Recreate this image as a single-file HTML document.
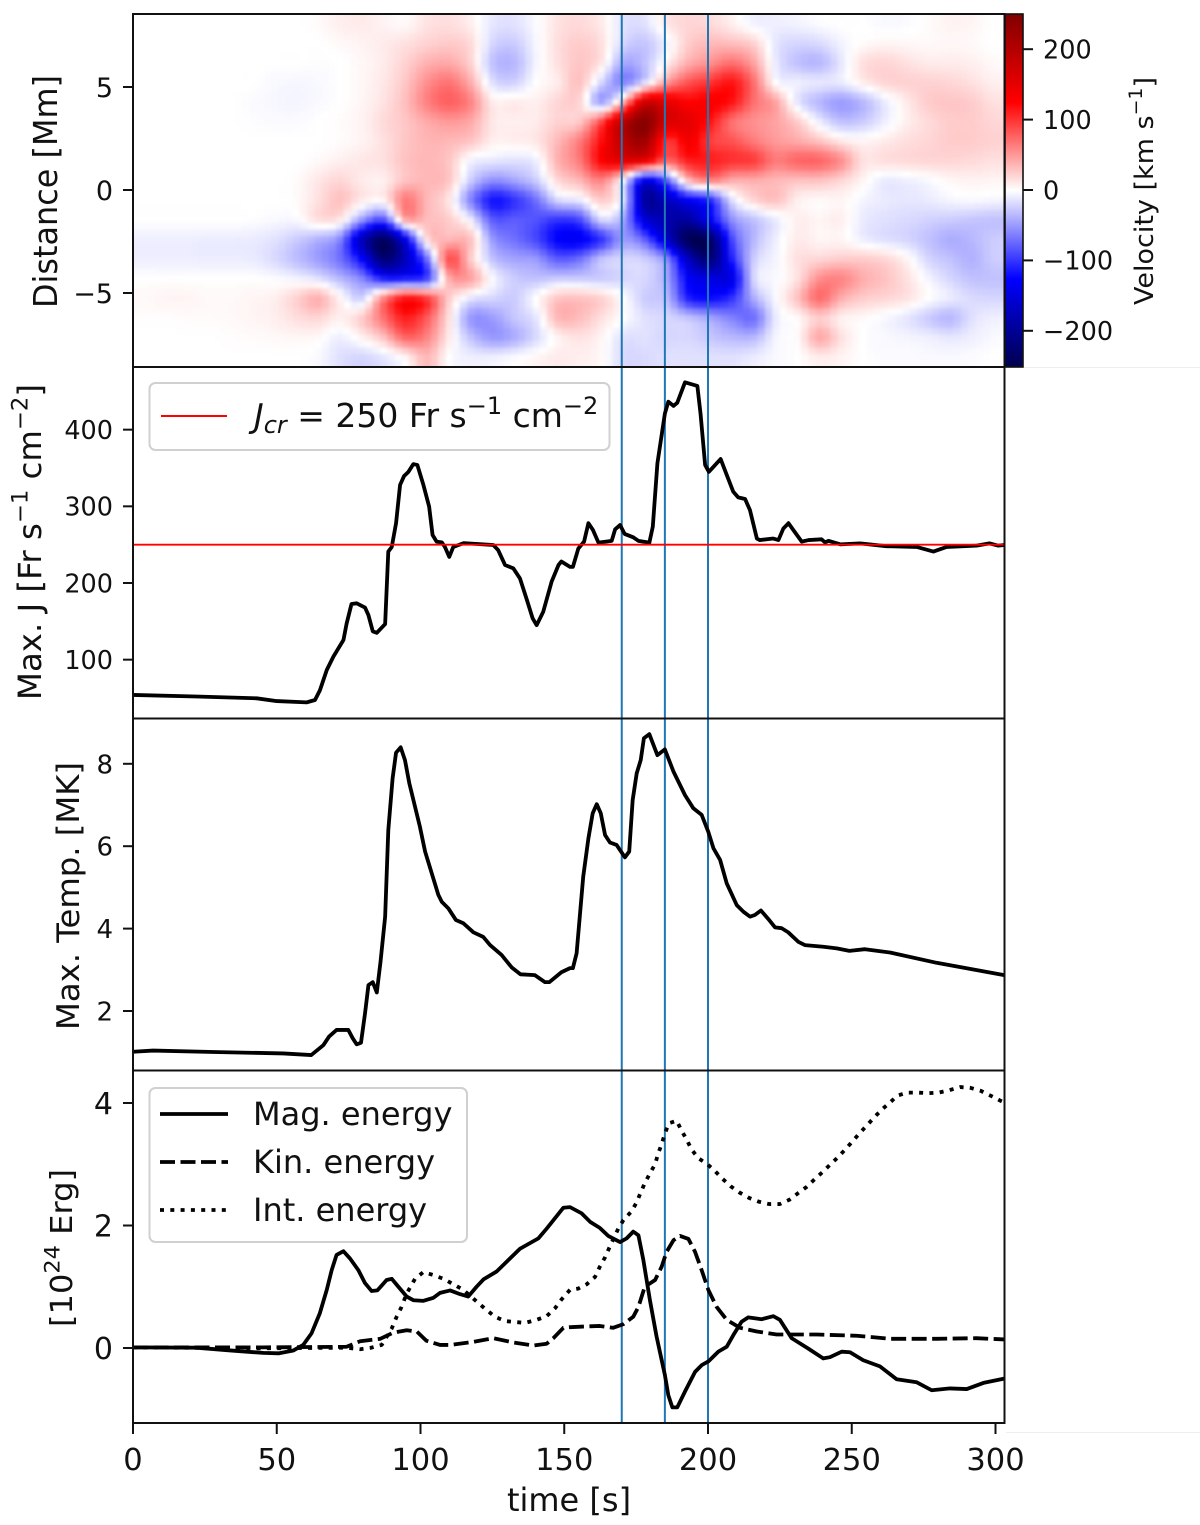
<!DOCTYPE html>
<html lang="en">
<head>
<meta charset="utf-8">
<title>Velocity, current, temperature and energy versus time</title>
<style>
html,body{margin:0;padding:0;background:#fff;}
svg{display:block;font-family:"DejaVu Sans","Liberation Sans",sans-serif;fill:#111;}
</style>
</head>
<body>
<svg id="chart" xmlns="http://www.w3.org/2000/svg" width="1200" height="1525" viewBox="0 0 1200 1525"></svg>
<script>
// ---------- chart data ----------
var markerTimes = [170, 185, 200];
var criticalCurrent = [250];
var timeTicks = [0, 50, 100, 150, 200, 250, 300];
var distanceTicks = [5, 0, -5];
var currentTicks = [400, 300, 200, 100];
var tempTicks = [8, 6, 4, 2];
var energyTicks = [4, 2, 0];
var velocityTicks = [200, 100, 0, -100, -200];

var currentTimes = [0,22,43,50,60.4,63.3,65,67.4,69.7,73.2,74.3,76,77.8,80.7,81.9,83.4,84.8,87.7,88.8,90,91.5,92.9,94.3,95.8,97.5,98.9,101,103,104.2,105.6,107.4,108.5,110,111.4,115,125.3,127,129.4,132.3,134.6,137,139,140.4,142.7,145.6,148,149,152,153,154.9,156.9,158.4,160,161.9,166.5,167.7,169.4,171,174,175.8,179.6,180.8,182.4,185,186.2,188,189.3,192,196.3,197.4,199,200.3,204.4,206.3,208.8,210.5,212.9,214.6,217,218,222.7,224.5,226.2,228,229.7,232.6,235,239.5,240.7,241.9,246,252.9,262,272.6,278.4,283,293.4,297.9,301,303];
var currentValues = [54,52,49.6,46,44.3,47.4,60,86.5,104,125.6,147,172.6,173.5,168,158,137,135,146.5,241,247,278,328,339.6,345,355,354,328,299.6,262.6,254,253,247,234,247,252,249.6,243,223.5,219,206,178,154,145,162.6,201.7,223.5,228,221,221,245,254,278,269,252.6,255,270,275.6,264,259.6,255,252.6,273.5,356,421,436.5,431,435,461.7,457,421,354,345,361.7,343,319,311.7,309.6,295,258,256,258,256,271,278,269,254,256,257,253,255,250.4,251.7,248,247,241,247,248.7,251.7,248.7,249.6];

var tempTimes = [0,7,28,52.3,62,66.2,68.2,70.8,74.9,76.4,77.8,79.3,80.7,81.9,83.4,84.8,86.1,87.7,88.8,90.3,91.5,93.1,94.6,96.1,99.8,101.6,106.2,107.4,109.7,112.3,114.9,118.4,121.8,124.2,128.2,131.7,134.8,139.8,143.3,144.8,149,152,153,154.3,156.6,158.4,159.9,161.3,162.7,164.2,165.9,168.2,171.1,172.6,173.8,175.2,176.6,177.7,179.6,182.4,185,188,192,194.9,197.8,200.1,201.9,204.2,206.5,210,212.3,214.6,216.3,218.4,221,223.3,225.6,227.9,231.4,233.7,240.1,244.8,249.2,254.6,263.3,279.5,303];
var tempValues = [1.01,1.04,1.005,0.97,0.93,1.17,1.38,1.54,1.54,1.34,1.19,1.23,1.94,2.63,2.7,2.45,3.2,4.29,6.39,7.65,8.27,8.4,8.09,7.53,6.47,5.87,4.82,4.65,4.49,4.21,4.13,3.91,3.8,3.6,3.36,3.06,2.89,2.87,2.7,2.7,2.94,3.04,3.04,3.4,5.26,6.19,6.8,7.02,6.8,6.27,6.09,6.03,5.73,5.87,7.12,7.77,8.09,8.62,8.72,8.21,8.35,7.81,7.24,6.92,6.76,6.35,5.95,5.67,5.1,4.57,4.41,4.29,4.33,4.44,4.23,4.03,4.01,3.91,3.68,3.6,3.56,3.52,3.46,3.5,3.42,3.17,2.87];

var magTimes = [0,22,33.8,45.3,50.6,55.8,59.2,62.1,65,67.4,69.1,70.8,73.2,75.5,78.4,80.7,83,85,88.2,90,92.3,95.2,97.5,101,104.5,106.8,110.3,113.7,116.6,119.5,121.9,126.5,130,134.6,141,143.9,149.7,152,156,159,162.4,165.3,169.4,171.7,174,175.8,177.5,179.8,182.1,185,186.2,187.6,189.3,192,195.5,197.8,200.1,203.6,206.5,208.8,211.7,214,218.7,222.7,225,229.1,234.9,240.1,242.4,246.5,249.4,254,259.8,265.6,272.6,277.8,284.2,290,295.8,303];
var magValues = [0.01,0.005,-0.04,-0.08,-0.087,-0.04,0.05,0.24,0.57,0.95,1.27,1.52,1.58,1.46,1.27,1.06,0.93,0.94,1.11,1.13,1.0,0.84,0.78,0.77,0.82,0.9,0.94,0.88,0.84,1.0,1.12,1.25,1.41,1.62,1.79,1.95,2.29,2.3,2.2,2.06,1.96,1.83,1.73,1.79,1.9,1.84,1.44,0.78,0.19,-0.44,-0.77,-0.97,-0.97,-0.71,-0.39,-0.28,-0.22,-0.06,0.02,0.21,0.43,0.5,0.47,0.52,0.46,0.16,-0.01,-0.17,-0.15,-0.06,-0.07,-0.2,-0.3,-0.51,-0.56,-0.69,-0.66,-0.67,-0.57,-0.5];

var kinTimes = [0,45,74.3,79,86,90.5,95.2,98.7,102,106.8,110.3,118.4,125.3,132.3,139.3,143.9,146.2,149.7,152,156.6,162.4,167,170.6,174,175.8,178,181.6,183.9,185.6,188,190.3,193.2,195.5,197.8,200.1,203,206.5,211.1,217,223.9,237.8,251.7,263.3,279.5,293.4,303];
var kinValues = [0.01,0.01,0.02,0.11,0.15,0.25,0.29,0.27,0.12,0.05,0.05,0.1,0.16,0.09,0.04,0.07,0.16,0.33,0.34,0.35,0.36,0.33,0.39,0.51,0.67,1.0,1.11,1.33,1.57,1.76,1.83,1.78,1.57,1.27,0.95,0.67,0.46,0.33,0.27,0.22,0.22,0.2,0.15,0.15,0.16,0.14];

var intTimes = [0,45,74.3,79,82.4,86.5,90,91.7,93.4,95.2,98.1,101,104.5,108,114.9,119.5,123,125.9,129.4,136.3,140.4,143.9,146.8,149,152,154.9,157.8,160.7,162.4,164.2,165.7,168.8,170.6,173.4,175.2,176.6,178,179.8,181.6,182.7,183.9,185,186.4,189.1,190.8,192.6,194.3,196.6,199.8,202.4,205.1,207.9,210.9,214.3,217.6,221.3,225,228.3,231.4,234.3,237.2,239.8,242.4,245.1,247.7,250.2,252.6,255.2,257.7,260.4,263.1,265.9,269.3,272.9,276.6,280.3,284,287.7,291.1,294.8,298.3,301.6,303];
var intValues = [0.01,-0.005,0.005,-0.02,0,0.05,0.32,0.51,0.67,0.89,1.13,1.24,1.19,1.13,0.95,0.76,0.62,0.51,0.44,0.41,0.46,0.52,0.65,0.79,0.95,0.97,1.04,1.16,1.33,1.48,1.64,1.95,2.09,2.23,2.38,2.54,2.69,2.85,3.0,3.18,3.33,3.5,3.67,3.71,3.55,3.4,3.24,3.1,3.0,2.89,2.76,2.64,2.54,2.45,2.39,2.35,2.35,2.42,2.53,2.63,2.76,2.87,2.99,3.11,3.24,3.37,3.5,3.63,3.76,3.89,4.0,4.12,4.17,4.17,4.16,4.17,4.21,4.26,4.25,4.2,4.12,4.04,4.01];

// velocity [km/s]: rows run from the top of the panel to the bottom, columns left to right in time
var velocityGrid = [
[0,0,0,0,0,0,0,0,2,8,10,6,3,14,16,8,-12,-14,-2,14,18,10,-14,-14,12,20,18,8,-6,-8,-6,-2,0,0,-3,-2,2,6,5,0],
[0,0,0,0,0,0,0,0,0,3,6,10,15,22,26,18,-20,-25,-4,16,25,15,-20,-28,-5,25,34,32,22,-12,-20,-18,-6,2,5,4,3,4,3,0],
[0,0,0,0,0,0,0,0,-1,0,4,10,22,38,42,22,-30,-35,-5,15,28,12,-42,-30,8,40,55,70,45,-10,-30,-35,-12,15,20,15,10,10,8,3],
[0,0,0,0,0,0,-3,-4,-3,0,4,12,28,55,68,40,-15,-22,0,10,30,-20,-60,-15,50,85,100,115,70,0,-8,-12,-10,8,20,22,22,20,15,8],
[0,0,0,0,0,-2,-4,-5,-3,0,5,14,32,62,78,60,10,10,8,20,20,-45,40,170,150,125,130,115,70,45,-12,-35,-48,-35,-10,10,25,28,25,15],
[0,0,0,0,0,-1,-2,-2,0,2,6,18,28,42,50,42,12,8,10,22,28,90,190,240,165,150,115,70,55,45,25,-8,-30,-25,-8,8,18,25,25,20],
[0,0,0,0,0,0,0,0,0,2,6,15,28,36,35,28,8,8,12,35,65,120,190,215,100,135,95,85,65,50,42,30,12,5,10,16,20,25,25,22],
[0,0,0,0,0,0,0,0,3,8,12,15,30,35,28,-6,-12,-15,-8,38,65,125,150,140,75,110,110,100,95,65,75,75,55,15,16,18,20,20,18,15],
[0,0,0,0,0,0,0,2,12,20,10,8,30,35,28,-25,-55,-45,-25,18,35,60,-5,-140,-80,30,60,40,40,35,30,30,20,5,-10,-8,-3,4,6,5],
[0,0,0,0,0,0,0,2,15,30,10,5,65,35,12,-60,-115,-100,-70,-20,-10,25,-15,-190,-170,-130,-105,-15,20,30,8,3,5,-5,-10,-12,-10,-5,-3,-5],
[0,0,0,0,0,-1,-3,-3,15,10,-50,-85,40,32,25,-8,-80,-80,-85,-100,-90,-20,-45,-150,-180,-190,-130,-55,-30,-10,8,5,8,-10,-15,-18,-22,-25,-28,-30],
[-8,-8,-8,-9,-9,-10,-14,-25,-38,-60,-170,-235,-140,15,35,30,-50,-70,-90,-125,-130,-100,-50,-80,-160,-240,-230,-90,-35,-8,10,5,5,-8,-15,-20,-30,-40,-35,-25],
[-8,-8,-8,-9,-9,-10,-18,-32,-48,-70,-125,-220,-170,-70,85,25,-30,-45,-50,-80,-70,-30,-20,-25,-60,-170,-220,-110,-25,-5,15,20,25,25,20,5,-20,-30,-38,-25],
[0,0,0,0,0,0,-2,-6,-14,-35,-60,-110,-110,-90,40,45,-3,-25,-30,-25,-25,-25,-20,-20,-45,-130,-145,-140,-20,-3,15,55,60,40,30,15,-5,-20,-30,-30],
[3,5,5,3,3,5,8,22,38,5,-22,60,115,95,25,-12,-20,-25,0,28,30,22,0,-25,-35,-110,-120,-100,-40,-3,30,72,40,25,20,14,0,-10,-18,-20],
[1,1,2,2,3,5,8,16,20,8,25,70,110,80,15,-50,-48,-28,-12,35,32,15,0,-15,-20,-30,-45,-62,-70,-10,3,25,8,3,-3,-12,-25,-35,-15,-8],
[0,0,0,0,1,2,3,4,3,-8,6,30,75,60,10,-30,-50,-40,-18,6,14,5,-15,-15,-20,-20,-28,-35,-35,-5,3,42,15,0,-3,-5,-8,-12,-8,-3],
[0,0,0,0,0,0,0,0,-3,-15,-20,-12,5,35,0,-8,-8,-3,4,10,8,3,-18,-18,-15,-15,-15,-15,-10,-3,0,10,6,0,-2,-2,-3,-3,-2,0]
];

// ---------- layout & axis functions ----------
var NS = 'http://www.w3.org/2000/svg';
var svg = document.getElementById('chart');
var LEFT = 133, RIGHT = 1004.5;
var BLUE = '#1f77b4';
var panels = { p1:[14,367], p2:[367,718.5], p3:[718.5,1070.5], p4:[1070.5,1423] };

function xScale(t){ return 133 + 2.875*t; }
function yDistance(d){ return 190 - 20.6*d; }
function yCurrent(j){ return 583 + (200-j)*0.7667; }
function yTemp(v){ return 1011 - (v-2)*41.2; }
function yEnergy(e){ return 1348 - 61.25*e; }
function yVelocity(v){ return 190 - 0.704*v; }

function el(tag, attrs, parent){
  var e = document.createElementNS(NS, tag);
  for (var k in attrs) e.setAttribute(k, attrs[k]);
  (parent || svg).appendChild(e);
  return e;
}
function seismic(v){
  var t = Math.max(-1, Math.min(1, v/250)), r, g, b;
  if (t < -0.5){ r = 0; g = 0; b = 0.3 + 0.7*(t+1)/0.5; }
  else if (t < 0){ r = g = (t+0.5)/0.5; b = 1; }
  else if (t < 0.5){ r = 1; g = b = 1 - t/0.5; }
  else { r = 1 - 0.5*(t-0.5)/0.5; g = b = 0; }
  return 'rgb(' + Math.round(r*255) + ',' + Math.round(g*255) + ',' + Math.round(b*255) + ')';
}
function cubic(a, b, c, d, f){
  return b + 0.5*f*(c-a + f*(2*a-5*b+4*c-d + f*(3*(b-c)+d-a)));
}
function sampleGrid(gx, gy){
  var rows = velocityGrid.length, cols = velocityGrid[0].length;
  var i = Math.floor(gx), j = Math.floor(gy), fx = gx-i, fy = gy-j, out = [];
  for (var m = -1; m <= 2; m++){
    var row = velocityGrid[Math.max(0, Math.min(rows-1, j+m))];
    var v = [];
    for (var n = -1; n <= 2; n++) v.push(row[Math.max(0, Math.min(cols-1, i+n))]);
    out.push(cubic(v[0], v[1], v[2], v[3], fx));
  }
  return cubic(out[0], out[1], out[2], out[3], fy);
}

// ---------- defs ----------
var defs = el('defs', {});
var soft = el('filter', {id:'soft', x:'-2%', y:'-2%', width:'104%', height:'104%', 'color-interpolation-filters':'sRGB'}, defs);
el('feGaussianBlur', {stdDeviation:'1.8'}, soft);
var names = Object.keys(panels);
names.forEach(function(n){
  var c = el('clipPath', {id:'clip-'+n}, defs);
  el('rect', {x:LEFT, y:panels[n][0], width:RIGHT-LEFT, height:panels[n][1]-panels[n][0]}, c);
});
var grad = el('linearGradient', {id:'cbar', x1:'0', y1:'1', x2:'0', y2:'0'}, defs);
[[0,-250],[0.25,-125],[0.5,0],[0.75,125],[1,250]].forEach(function(s){
  el('stop', {offset:s[0], 'stop-color':seismic(s[1])}, grad);
});

el('rect', {x:0, y:0, width:1200, height:1525, fill:'#fff'});

// ---------- heatmap ----------
var heatClip = el('g', {'clip-path':'url(#clip-p1)'});


var heat = el('g', {filter:'url(#soft)'}, heatClip);
var SUB = 3;
var gridRows = velocityGrid.length, gridCols = velocityGrid[0].length;
var cellW = (RIGHT-LEFT)/gridCols/SUB, cellH = (367-14)/gridRows/SUB;
for (var r = -1; r < gridRows*SUB+1; r++){
  for (var c = -1; c < gridCols*SUB+1; c++){
    var value = sampleGrid((c+0.5)/SUB-0.5, (r+0.5)/SUB-0.5);
    var cell = el('rect', {x:(LEFT+c*cellW).toFixed(2), y:(14+r*cellH).toFixed(2), width:(cellW+0.6).toFixed(2), height:(cellH+0.6).toFixed(2), fill:seismic(value)}, heat);
    
    
  }
}

// ---------- marker lines ----------
markerTimes.forEach(function(t){
  var line = el('line', {x1:xScale(t), x2:xScale(t), y1:14, y2:1423, stroke:BLUE, 'stroke-width':2});
  
  
});

// ---------- curves ----------
function drawCurve(ts, vs, yFn, panel, dash, name){
  var pts = ts.map(function(t, i){ return xScale(t).toFixed(2) + ',' + yFn(vs[i]).toFixed(2); }).join(' ');
  var a = {points:pts, fill:'none', stroke:'#000', 'stroke-width':3.8, 'stroke-linejoin':'round', 'clip-path':'url(#clip-'+panel+')'};
  if (dash) a['stroke-dasharray'] = dash;
  return el('polyline', a);
}
var curveCurrent = drawCurve(currentTimes, currentValues, yCurrent, 'p2', null);


var curveTemp = drawCurve(tempTimes, tempValues, yTemp, 'p3', null);


var curveMag = drawCurve(magTimes, magValues, yEnergy, 'p4', null);


var curveKin = drawCurve(kinTimes, kinValues, yEnergy, 'p4', '15 5.5');


var curveInt = drawCurve(intTimes, intValues, yEnergy, 'p4', '4 6.3');



var critLine = el('line', {x1:LEFT, x2:RIGHT, y1:yCurrent(criticalCurrent[0]), y2:yCurrent(criticalCurrent[0]), stroke:'#f00', 'stroke-width':1.9});



// ---------- faint figure edges ----------
var edgeA = el('line', {x1:1024, x2:1200, y1:367.5, y2:367.5, stroke:'#eee', 'stroke-width':1});


var edgeB = el('line', {x1:1006, x2:1200, y1:1432.5, y2:1432.5, stroke:'#eee', 'stroke-width':1});



// ---------- frames ----------
names.forEach(function(n){
  var frame = el('rect', {x:LEFT, y:panels[n][0], width:RIGHT-LEFT, height:panels[n][1]-panels[n][0], fill:'none', stroke:'#111', 'stroke-width':2});
  
  
});

// ---------- axis ticks ----------
function fmt(v){ return v < 0 ? '\u2212' + Math.abs(v) : String(v); }
function yTicks(values, yFn, size, name){
  values.forEach(function(v){
    var y = yFn(v);
    var tick = el('line', {x1:123, x2:LEFT, y1:y, y2:y, stroke:'#111', 'stroke-width':2});
    
    
    var label = el('text', {x:113, y:y + size*0.365, 'text-anchor':'end', 'font-size':size});
    label.textContent = fmt(v);
    
    
  });
}
yTicks(distanceTicks, yDistance, 27, 'distance-axis');
yTicks(currentTicks, yCurrent, 25.5, 'current-axis');
yTicks(tempTicks, yTemp, 26, 'temperature-axis');
yTicks(energyTicks, yEnergy, 30, 'energy-axis');

timeTicks.forEach(function(t){
  var x = xScale(t);
  var tick = el('line', {x1:x, x2:x, y1:1423, y2:1434, stroke:'#111', 'stroke-width':2});
  
  
  var label = el('text', {x:x, y:1470, 'text-anchor':'middle', 'font-size':30.5});
  label.textContent = fmt(t);
  
  
});

// ---------- colour bar ----------
var cbar = el('rect', {x:1005, y:14, width:18, height:353, fill:'url(#cbar)', stroke:'#111', 'stroke-width':1.6});


velocityTicks.forEach(function(v){
  var y = yVelocity(v);
  var tick = el('line', {x1:1023, x2:1033, y1:y, y2:y, stroke:'#111', 'stroke-width':2});
  
  
  var label = el('text', {x:1043, y:y + 9.3, 'font-size':25.5});
  label.textContent = fmt(v);
  
  
});

// ---------- axis titles ----------
function rotated(x, yc, size, len, parts){
  var t = el('text', {transform:'translate(' + x + ',' + yc + ') rotate(-90)', 'text-anchor':'middle', 'font-size':size, textLength:len, lengthAdjust:'spacingAndGlyphs'});
  parts.forEach(function(p){
    var s = el('tspan', {}, t);
    s.textContent = p[0];
    if (p[1] === 'sup'){ s.setAttribute('font-size', size*0.7); s.setAttribute('dy', -size*0.42); }
    if (p[1] === 'base'){ s.setAttribute('dy', size*0.42); }
  });
  return t;
}
var t1 = rotated(57, 191.5, 33, 233, [['Distance [Mm]']]);


var t2 = rotated(41, 542, 32, 316, [['Max. J [Fr s'],['\u22121','sup'],[' cm','base'],['\u22122','sup'],[']','base']]);


var t3 = rotated(79, 896, 31, 268, [['Max. Temp. [MK]']]);


var t4 = rotated(72, 1248, 30, 158, [['[10'],['24','sup'],[' Erg]','base']]);


var t5 = rotated(1153, 191, 26, 228, [['Velocity [km s'],['\u22121','sup'],[']','base']]);



var xTitle = el('text', {x:569, y:1511, 'text-anchor':'middle', 'font-size':32});
xTitle.textContent = 'time [s]';



// ---------- legends ----------
var lg1 = el('g', {});


el('rect', {x:149.5, y:383, width:460, height:67, rx:6, fill:'#fff', 'fill-opacity':0.9, stroke:'#d0d0d0', 'stroke-width':2}, lg1);
el('line', {x1:161, x2:227, y1:416, y2:416, stroke:'#f00', 'stroke-width':1.9}, lg1);
var lgText = el('text', {x:254, y:427, 'font-size':33}, lg1);


[['J','i',33,0],['cr','i',24,6],[' = 250 Fr s','',33,-6],['\u22121','',24,-13],[' cm','',33,13],['\u22122','',24,-13]].forEach(function(p){
  var s = el('tspan', {'font-size':p[2], dy:p[3]}, lgText);
  if (p[1]) s.setAttribute('font-style', 'italic');
  s.textContent = p[0];
});

var lg2 = el('g', {});


el('rect', {x:149.5, y:1088, width:317.5, height:154, rx:6, fill:'#fff', 'fill-opacity':0.9, stroke:'#d0d0d0', 'stroke-width':2}, lg2);
var legendLabels = ['Mag. energy', 'Kin. energy', 'Int. energy'];
var legendDash = [null, '15 5.5', '4 6.3'];
legendLabels.forEach(function(txt, i){
  var y = 1114 + i*48;
  var a = {x1:160, x2:228, y1:y, y2:y, stroke:'#000', 'stroke-width':3.8};
  if (legendDash[i]) a['stroke-dasharray'] = legendDash[i];
  var h = el('line', a, lg2);
  
  
  var t = el('text', {x:253, y:y + 11, 'font-size':32}, lg2);
  t.textContent = txt;
  
  
});
</script>
</body>
</html>
